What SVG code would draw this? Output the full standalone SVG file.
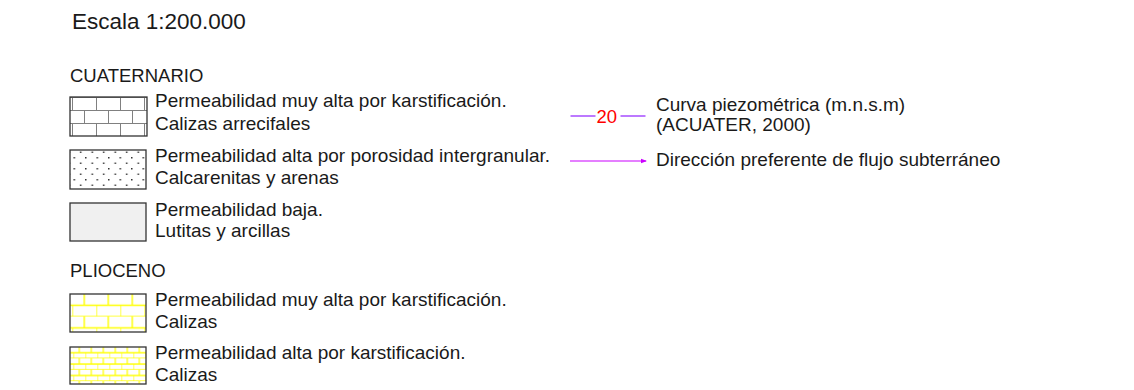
<svg xmlns="http://www.w3.org/2000/svg" width="1134" height="390" viewBox="0 0 1134 390">
<style>
text{font-family:"Liberation Sans",Arial,sans-serif;fill:#1a1a1a}
.t{font-size:19px}
.h{font-size:18.5px}
.box{stroke:#333;stroke-width:1.3}
</style>
<defs>
<pattern id="brickG" patternUnits="userSpaceOnUse" x="72" y="97" width="24" height="26">
<path d="M0 0.5H24M0 13.5H24M0.5 0V13.5M12.5 13.5V26" stroke="#808080" stroke-width="1" fill="none"/>
</pattern>
<pattern id="dots" patternUnits="userSpaceOnUse" x="73.5" y="157" width="11.5" height="11">
<rect x="0" y="0" width="1.5" height="1.5" fill="#333"/>
<rect x="6.5" y="5.5" width="1.5" height="1.5" fill="#333"/>
</pattern>
<pattern id="brickY" patternUnits="userSpaceOnUse" x="72.3" y="294" width="24" height="22.6">
<path d="M0 11.3H24M0 22.6H24M12 0V11.3M0 11.3V22.6" stroke="#ffff00" stroke-width="1.4" fill="none"/>
</pattern>
<pattern id="brickYf" patternUnits="userSpaceOnUse" x="73.3" y="347" width="12" height="11.4">
<path d="M0 5.7H12M0 11.4H12M6 0V5.7M0 5.7V11.4" stroke="#ffff00" stroke-width="1.2" fill="none"/>
</pattern>
<marker id="arr" markerWidth="6" markerHeight="6" refX="5" refY="3" orient="auto" markerUnits="userSpaceOnUse">
<path d="M0 0.8L6 3L0 5.2Z" fill="#cc00ff"/>
</marker>
</defs>

<text x="72" y="29" style="font-size:22.5px">Escala 1:200.000</text>

<g id="cuaternario">
<text class="h" x="70" y="82">CUATERNARIO</text>
</g>

<g id="q-calizas">
<rect x="70" y="97" width="77" height="39" fill="#fff"/>
<rect x="70" y="97" width="77" height="39" fill="url(#brickG)" class="box"/>
<text class="t" x="155" y="107">Permeabilidad muy alta por karstificación.</text>
<text class="t" x="155" y="129.5">Calizas arrecifales</text>
</g>

<g id="q-calcarenitas">
<rect x="70" y="150" width="76" height="39" fill="#fff"/>
<rect x="70" y="150" width="76" height="39" fill="url(#dots)" class="box"/>
<text class="t" x="155" y="162">Permeabilidad alta por porosidad intergranular.</text>
<text class="t" x="155" y="184">Calcarenitas y arenas</text>
</g>

<g id="q-lutitas">
<rect x="70" y="203" width="76" height="38" fill="#f0f0f0" class="box"/>
<text class="t" x="155" y="215.5">Permeabilidad baja.</text>
<text class="t" x="155" y="237">Lutitas y arcillas</text>
</g>

<g id="plioceno">
<text class="h" x="70" y="276.5">PLIOCENO</text>
</g>

<g id="p-calizas1">
<rect x="70" y="294" width="76" height="38" fill="#fff"/>
<rect x="70" y="294" width="76" height="38" fill="url(#brickY)" class="box"/>
<text class="t" x="155" y="305.5">Permeabilidad muy alta por karstificación.</text>
<text class="t" x="155" y="327.5">Calizas</text>
</g>

<g id="p-calizas2">
<rect x="70" y="347" width="76" height="37" fill="#fff"/>
<rect x="70" y="347" width="76" height="37" fill="url(#brickYf)" class="box"/>
<text class="t" x="155" y="358.5">Permeabilidad alta por karstificación.</text>
<text class="t" x="155" y="381">Calizas</text>
</g>

<g id="curva">
<line x1="570.5" y1="116" x2="595.5" y2="116" stroke="#a64dff" stroke-width="1.5"/>
<line x1="620.5" y1="116" x2="645.5" y2="116" stroke="#a64dff" stroke-width="1.5"/>
<text x="596.5" y="123" style="font-size:18.5px;fill:#ff0000">20</text>
<text class="t" x="656" y="110.5">Curva piezométrica (m.n.s.m)</text>
<text class="t" x="656" y="130.5">(ACUATER, 2000)</text>
</g>

<g id="flujo">
<line x1="570" y1="161" x2="646" y2="161" stroke="#cc00ff" stroke-width="1.2" marker-end="url(#arr)"/>
<text class="t" x="656" y="165.5">Dirección preferente de flujo subterráneo</text>
</g>
</svg>
